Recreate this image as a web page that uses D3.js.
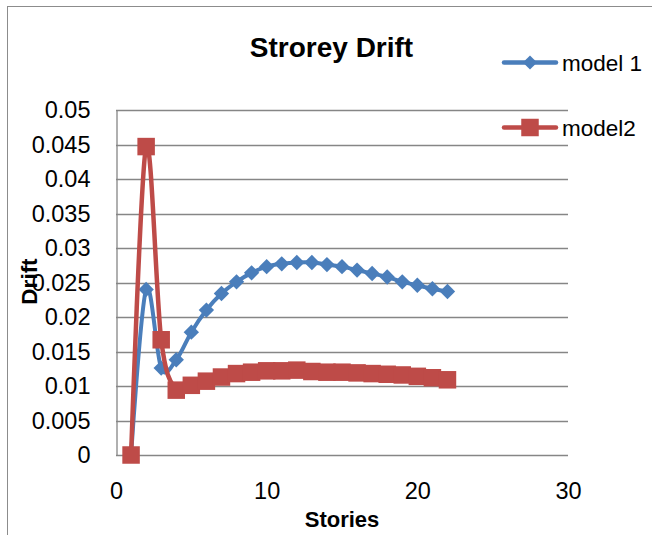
<!DOCTYPE html>
<html>
<head>
<meta charset="utf-8">
<script src="https://cdn.jsdelivr.net/npm/d3@7"></script>
<style>
  body { margin: 0; background: #fff; }
  svg text { font-family: "Liberation Sans", Arial, sans-serif; fill: #000; }
</style>
</head>
<body>
<div id="chart"></div>
<script>
const stories = [1, 2, 3, 4, 5, 6, 7, 8, 9, 10, 11, 12, 13, 14, 15, 16, 17, 18, 19, 20, 21, 22];
const model1 = [0, 0.0240, 0.0126, 0.0138, 0.0178, 0.0210, 0.0234, 0.0251, 0.0264, 0.0273, 0.0277,
  0.0279, 0.0279, 0.0276, 0.0273, 0.0268, 0.0263, 0.0258, 0.0251, 0.0246, 0.0241, 0.0237];
const model2 = [0, 0.0447, 0.0167, 0.0094, 0.0101, 0.0107, 0.0113, 0.0118, 0.0120, 0.0122, 0.0122,
  0.0123, 0.0121, 0.0120, 0.0120, 0.0119, 0.0118, 0.0117, 0.0116, 0.0114, 0.0112, 0.0109];
const xTicks = [0, 10, 20, 30];
const yTicks = [0, 0.005, 0.01, 0.015, 0.02, 0.025, 0.03, 0.035, 0.04, 0.045, 0.05];
const seriesNames = ['model 1', 'model2'];

const width = 652, height = 535;
const plot = { left: 116, right: 568, top: 110, bottom: 455 };

const svg = d3.select('#chart').append('svg')
  .attr('width', width)
  .attr('height', height);

// chart area border (right / bottom edges fall outside the view)
svg.append('rect')
  .attr('x', 7.5).attr('y', 6.5)
  .attr('width', 700).attr('height', 600)
  .attr('fill', '#fff')
  .attr('stroke', '#8c8c8c')
  .attr('stroke-width', 1);

const x = d3.scaleLinear().domain([0, 30]).range([plot.left, plot.right]);
const y = d3.scaleLinear().domain([0, 0.05]).range([plot.bottom, plot.top]);

// gridlines
svg.append('g')
  .selectAll('line')
  .data(yTicks)
  .join('line')
  .attr('x1', plot.left).attr('x2', plot.right)
  .attr('y1', d => Math.round(y(d)) + 0.5)
  .attr('y2', d => Math.round(y(d)) + 0.5)
  .attr('stroke', '#868686')
  .attr('stroke-width', 1.3);

// y axis
const yAxis = svg.append('g')
  .attr('transform', `translate(${plot.left + 0.5},0)`)
  .call(d3.axisLeft(y).tickValues(yTicks).tickSize(0).tickPadding(26)
    .tickFormat(d => d3.format('')(+d.toFixed(3))));
yAxis.select('.domain').attr('stroke', '#868686').attr('stroke-width', 1.3);
yAxis.selectAll('text')
  .attr('font-size', 23.5)
  .style('font-family', '"Liberation Sans", Arial, sans-serif');

// x axis labels (no visible axis line other than the zero gridline)
const xAxis = svg.append('g')
  .attr('transform', `translate(0,${plot.bottom + 0.5})`)
  .call(d3.axisBottom(x).tickValues(xTicks).tickSize(0).tickPadding(27));
xAxis.select('.domain').remove();
xAxis.selectAll('text')
  .attr('font-size', 23.5)
  .style('font-family', '"Liberation Sans", Arial, sans-serif');

const line = d3.line()
  .x((d, i) => x(stories[i]))
  .y(d => y(d))
  .curve(d3.curveCardinal.tension(0));

const blue = '#4A7EBB';
const red = '#BE4B48';

// model 1
svg.append('path')
  .datum(model1)
  .attr('d', line)
  .attr('fill', 'none')
  .attr('stroke', blue)
  .attr('stroke-width', 4)
  .attr('stroke-linejoin', 'round');

const diamond = d3.symbol().type(d3.symbolSquare).size(118);
svg.append('g')
  .selectAll('path')
  .data(model1)
  .join('path')
  .attr('d', diamond)
  .attr('transform', (d, i) => `translate(${x(stories[i])},${y(d)}) rotate(45)`)
  .attr('fill', blue);

// model2
svg.append('path')
  .datum(model2)
  .attr('d', line)
  .attr('fill', 'none')
  .attr('stroke', red)
  .attr('stroke-width', 4.5)
  .attr('stroke-linejoin', 'round');

const square = d3.symbol().type(d3.symbolSquare).size(17.5 * 17.5);
svg.append('g')
  .selectAll('path')
  .data(model2)
  .join('path')
  .attr('d', square)
  .attr('transform', (d, i) => `translate(${x(stories[i])},${y(d)})`)
  .attr('fill', red);

// title & axis titles
svg.append('text')
  .attr('x', 331.5).attr('y', 56.5)
  .attr('text-anchor', 'middle')
  .attr('font-size', 28)
  .attr('font-weight', 'bold')
  .text('Strorey Drift');

svg.append('text')
  .attr('x', 342).attr('y', 527)
  .attr('text-anchor', 'middle')
  .attr('font-size', 22)
  .attr('font-weight', 'bold')
  .text('Stories');

svg.append('text')
  .attr('transform', 'translate(37,281.5) rotate(-90)')
  .attr('text-anchor', 'middle')
  .attr('font-size', 22.5)
  .attr('font-weight', 'bold')
  .text('Drift');

// legend
const legend = svg.append('g');
const legendY = [62.5, 127.5];
const legendColors = [blue, red];
const legendDiamond = d3.symbol().type(d3.symbolSquare).size(100);
seriesNames.forEach((name, i) => {
  const g = legend.append('g').attr('transform', `translate(0,${legendY[i]})`);
  g.append('line')
    .attr('x1', 504).attr('x2', 556)
    .attr('stroke', legendColors[i])
    .attr('stroke-width', 4.5)
    .attr('stroke-linecap', 'round');
  g.append('path')
    .attr('d', i === 0 ? legendDiamond : square)
    .attr('transform', `translate(530,0)${i === 0 ? ' rotate(45)' : ''}`)
    .attr('fill', legendColors[i]);
  g.append('text')
    .attr('x', 562).attr('y', 8)
    .attr('font-size', 22.5)
    .text(name);
});
</script>
</body>
</html>
